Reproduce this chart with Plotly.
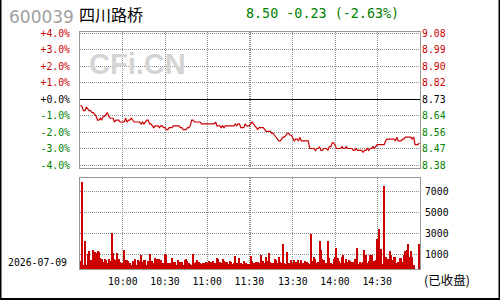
import plotly.graph_objects as go

STOCK_CODE = "600039"
STOCK_NAME = "四川路桥"
PREV_CLOSE = 8.73
LAST_PRICE = 8.50
CHANGE = -0.23
CHANGE_PCT = -2.63
TRADE_DATE = "2026-07-09"
STATUS = "(已收盘)"
WATERMARK = "CFi.CN"

# minute index 0..241 (9:30-11:30 -> 0..120, 13:00-15:00 -> 121..241)
prices = [
    8.70, 8.69, 8.67, 8.67, 8.69, 8.68, 8.67, 8.67, 8.66, 8.66,
    8.65, 8.64, 8.62, 8.62, 8.63, 8.62, 8.64, 8.64, 8.65, 8.66,
    8.64, 8.63, 8.63, 8.63, 8.61, 8.62, 8.62, 8.62, 8.61, 8.61,
    8.61, 8.61, 8.63, 8.61, 8.62, 8.62, 8.63, 8.62, 8.61, 8.61,
    8.61, 8.61, 8.61, 8.60, 8.61, 8.60, 8.61, 8.62, 8.62, 8.60,
    8.60, 8.59, 8.58, 8.59, 8.59, 8.59, 8.58, 8.59, 8.59, 8.58,
    8.58, 8.57, 8.57, 8.58, 8.58, 8.58, 8.59, 8.59, 8.59, 8.59,
    8.59, 8.58, 8.58, 8.57, 8.57, 8.57, 8.58, 8.58, 8.59, 8.62,
    8.62, 8.61, 8.61, 8.61, 8.61, 8.61, 8.60, 8.60, 8.60, 8.60,
    8.60, 8.60, 8.60, 8.60, 8.60, 8.60, 8.61, 8.59, 8.59, 8.59,
    8.58, 8.59, 8.58, 8.59, 8.59, 8.59, 8.59, 8.59, 8.59, 8.59,
    8.60, 8.59, 8.60, 8.60, 8.58, 8.58, 8.58, 8.60, 8.59, 8.59,
    8.59, 8.60, 8.61, 8.60, 8.59, 8.58, 8.57, 8.58, 8.58, 8.58,
    8.58, 8.57, 8.56, 8.56, 8.56, 8.56, 8.55, 8.55, 8.54, 8.53,
    8.52, 8.51, 8.51, 8.52, 8.53, 8.53, 8.54, 8.55, 8.55, 8.54,
    8.54, 8.52, 8.51, 8.52, 8.52, 8.51, 8.53, 8.51, 8.51, 8.51,
    8.51, 8.51, 8.51, 8.47, 8.47, 8.47, 8.47, 8.46, 8.47, 8.47,
    8.48, 8.46, 8.46, 8.47, 8.47, 8.47, 8.46, 8.48, 8.48, 8.50,
    8.50, 8.49, 8.47, 8.47, 8.47, 8.47, 8.48, 8.47, 8.47, 8.48,
    8.47, 8.47, 8.47, 8.47, 8.46, 8.46, 8.47, 8.46, 8.46, 8.46,
    8.46, 8.45, 8.46, 8.46, 8.47, 8.46, 8.47, 8.47, 8.48, 8.47,
    8.48, 8.49, 8.49, 8.49, 8.49, 8.49, 8.49, 8.51, 8.52, 8.52,
    8.52, 8.52, 8.52, 8.52, 8.51, 8.53, 8.51, 8.51, 8.51, 8.52,
    8.52, 8.53, 8.53, 8.53, 8.53, 8.53, 8.52, 8.53, 8.49, 8.49,
    8.49, 8.50,
]

volumes = [
    400, 7950, 50, 2310, 50, 1035, 1354, 493, 493, 1450,
    1258, 1131, 1354, 1258, 716, 557, 301, 620, 493, 237,
    620, 397, 3046, 1131, 557, 493, 1131, 620, 301, 237,
    237, 1450, 493, 493, 397, 237, 50, 397, 174, 557,
    50, 493, 397, 971, 301, 493, 493, 50, 397, 1035,
    237, 397, 237, 684, 557, 174, 557, 493, 237, 237,
    1035, 940, 237, 237, 237, 684, 301, 301, 14, 493,
    237, 301, 301, 50, 493, 557, 397, 174, 110, 50,
    1035, 174, 301, 493, 301, 174, 60, 174, 200, 301,
    174, 397, 301, 301, 397, 200, 174, 684, 557, 301,
    174, 557, 397, 301, 301, 110, 397, 301, 78, 200,
    876, 174, 20, 684, 174, 78, 397, 200, 174, 110,
    110, 876, 397, 174, 174, 301, 301, 200, 971, 397,
    397, 174, 780, 397, 1131, 301, 174, 200, 557, 493,
    174, 780, 301, 174, 1995, 174, 100, 1258, 174, 174,
    493, 174, 493, 301, 20, 493, 174, 493, 174, 20,
    397, 301, 174, 100, 2952, 397, 780, 557, 174, 301,
    2311, 1450, 557, 493, 174, 200, 2311, 684, 174, 78,
    557, 780, 1670, 684, 397, 174, 780, 971, 174, 557,
    301, 493, 397, 301, 301, 557, 174, 1670, 78, 301,
    174, 301, 1450, 971, 174, 397, 971, 971, 397, 397,
    493, 2531, 3431, 780, 1574, 100, 7574, 780, 200, 557,
    1354, 971, 493, 780, 780, 200, 301, 684, 684, 301,
    971, 1354, 1450, 1995, 780, 1354, 780, 50, None, None,
    None, 1995,
]

time_tick_idx = [30, 60, 90, 120, 121, 151, 181, 211]
time_tick_text = ["10:00", "10:30", "11:00", "11:30", "", "13:30", "14:00", "14:30"]
pct_ticks = [4, 3, 2, 1, 0, -1, -2, -3, -4]
vol_ticks = [1000, 3000, 5000, 7000]

PCT_RANGE = [-4.16, 4.08]
VOL_RANGE = [-380, 8340]
PRICE_DOMAIN = [0.4262, 1.0]
VOL_DOMAIN = [0.0, 0.384]

RED = "#cc0000"
GREEN = "#008000"
GRID = "#8c8c8c"
FRAME = "#999999"
MONO = "DejaVu Sans Mono"


def col(p):
    return RED if p > 0 else (GREEN if p < 0 else "#000000")


x_idx = list(range(len(prices)))
pct_values = [(p / PREV_CLOSE - 1) * 100 for p in prices]

fig = go.Figure()
# invisible copy on the percent axis so that the left axis / frame is drawn
fig.add_trace(go.Scatter(x=x_idx, y=pct_values, mode="lines", xaxis="x", yaxis="y",
                         line=dict(color="rgba(0,0,0,0)", width=0), hoverinfo="skip"))
fig.add_trace(go.Scatter(x=x_idx, y=prices, mode="lines", xaxis="x", yaxis="y2",
                         line=dict(color=RED, width=1.2), hoverinfo="skip"))
fig.add_trace(go.Bar(x=x_idx,
                     y=[(v - VOL_RANGE[0]) if v is not None else None for v in volumes],
                     base=VOL_RANGE[0], xaxis="x2", yaxis="y3",
                     marker=dict(color=RED, line=dict(width=0)), width=0.75,
                     hoverinfo="skip"))

price_range = [PREV_CLOSE * (1 + r / 100) for r in PCT_RANGE]

xcommon = dict(range=[-0.5, len(prices) - 0.5], tickmode="array", tickvals=time_tick_idx,
               showgrid=True, gridcolor=GRID, griddash="1px,1px", gridwidth=1,
               showline=True, mirror=True, linecolor=FRAME, linewidth=1,
               zeroline=False, ticks="", fixedrange=True)

fig.update_layout(
    width=500, height=300,
    margin=dict(l=80, r=80, t=32, b=31, pad=0),
    paper_bgcolor="white", plot_bgcolor="white",
    showlegend=False, bargap=0,
    xaxis=dict(**xcommon, anchor="y", showticklabels=False, domain=[0, 1]),
    xaxis2=dict(**xcommon, anchor="y3", showticklabels=True, ticktext=time_tick_text,
                tickfont=dict(family=MONO, size=9.8, color="black"),
                ticklabelstandoff=3, domain=[0, 1]),
    yaxis=dict(domain=PRICE_DOMAIN, range=PCT_RANGE, anchor="x",
               tickmode="array", tickvals=pct_ticks,
               ticktext=[f'<span style="color:{col(p)}">{p:+.1f}%</span>' for p in pct_ticks],
               tickfont=dict(family=MONO, size=9.8), ticks="", ticklabelstandoff=7,
               showgrid=True, gridcolor=GRID, griddash="1px,1px", gridwidth=1,
               zeroline=True, zerolinecolor="black", zerolinewidth=1,
               showline=True, mirror=True, linecolor=FRAME, linewidth=1),
    yaxis2=dict(overlaying="y", side="right", range=price_range, anchor="x",
                domain=PRICE_DOMAIN,
                tickmode="array", tickvals=[PREV_CLOSE * (1 + p / 100) for p in pct_ticks],
                ticktext=[f'<span style="color:{col(p)}">{PREV_CLOSE * (1 + p / 100):.2f}</span>'
                          for p in pct_ticks],
                tickfont=dict(family=MONO, size=9.8), ticks="", ticklabelstandoff=1,
                showgrid=False, zeroline=False, showline=False),
    yaxis3=dict(domain=VOL_DOMAIN, range=VOL_RANGE, anchor="x2", side="right",
                tickmode="array", tickvals=vol_ticks, ticktext=[str(v) for v in vol_ticks],
                tickfont=dict(family=MONO, size=9.8, color="black"), ticks="",
                ticklabelstandoff=2,
                showgrid=True, gridcolor=GRID, griddash="1px,1px", gridwidth=1,
                zeroline=False, showline=True, mirror=True, linecolor=FRAME, linewidth=1),
)


def px(xp):
    return (xp - 80) / 340


def py(yp):
    return (269 - yp) / 237


ann = [
    dict(text=STOCK_CODE, x=px(7), y=py(16.5), xanchor="left", yanchor="middle",
         font=dict(family="DejaVu Sans", size=17, color="#a0a0a0")),
    dict(text=STOCK_NAME, x=px(77), y=py(14.5), xanchor="left", yanchor="middle",
         font=dict(family="Noto Sans CJK SC", size=16, color="black")),
    dict(text=f"{LAST_PRICE:.2f} {CHANGE:+.2f} ({CHANGE_PCT:+.2f}%)", x=px(244), y=py(13.5),
         xanchor="left", yanchor="middle",
         font=dict(family=MONO, size=13.4, color=GREEN)),
    dict(text=f"<b>{WATERMARK}</b>", x=px(137), y=py(64), xanchor="center", yanchor="middle",
         font=dict(family="Liberation Sans", size=29, color="#d4d4d4")),
    dict(text=TRADE_DATE, x=px(6), y=py(262), xanchor="left", yanchor="middle",
         font=dict(family=MONO, size=9.8, color="black")),
    dict(text=STATUS, x=px(422), y=py(279.5), xanchor="left", yanchor="middle",
         font=dict(family="Noto Sans CJK SC", size=12.5, color="black")),
]
for a in ann:
    a.update(xref="paper", yref="paper", showarrow=False)
fig.update_layout(annotations=ann)

fig.add_shape(type="path", xref="paper", yref="paper",
              path=f"M {px(0.5)},{py(-5)} L {px(0.5)},{py(299)} L {px(499.5)},{py(299)} L {px(499.5)},{py(-5)}",
              line=dict(color="black", width=2), layer="above")

fig.write_html("out.html")
